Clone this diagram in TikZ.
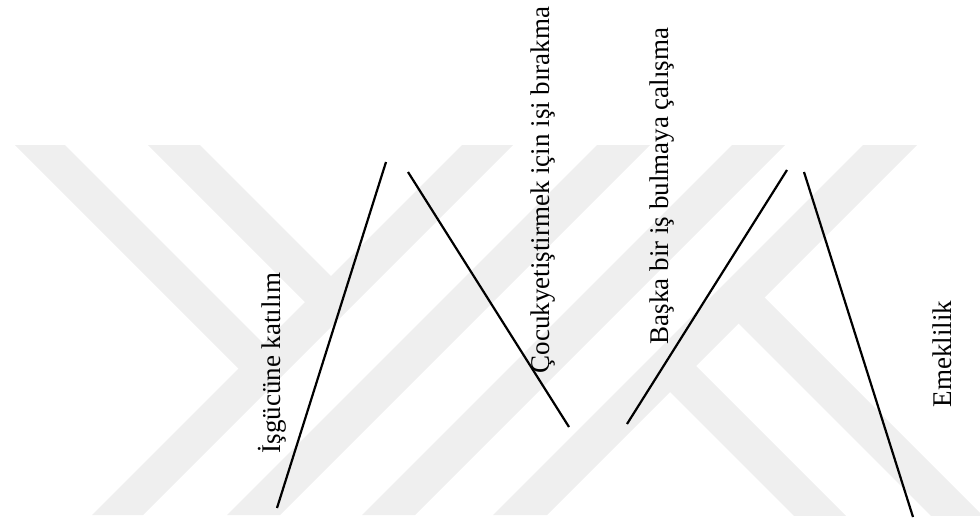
\documentclass[tikz,border=0pt]{standalone}
\usepackage{fontspec}
\setmainfont{Liberation Serif}
\definecolor{wm}{RGB}{239,239,239}
\tikzset{
  lbl/.style={rotate=90, anchor=base, inner sep=0pt, font=\fontsize{27}{32}\selectfont},
  pathline/.style={line width=2.2pt, black},
  band/.style={fill=wm, draw=none}
}
\begin{document}
\begin{tikzpicture}[x=1pt, y=-1pt]
\useasboundingbox (0,0) rectangle (980,520);
% watermark
\begin{scope}
\clip (0,145) rectangle (980,515);
\fill[band] (-30,100) -- (20,100) -- (275,355) -- (250,380) -- cycle;
\fill[band] (103,100) -- (155,100) -- (342.5,287.5) -- (316.5,313.5) -- cycle;
\fill[band] (462,145) -- (513,145) -- (143,515) -- (92,515) -- cycle;
\fill[band] (597,145) -- (650,145) -- (280,515) -- (227,515) -- cycle;
\fill[band] (732,145) -- (785,145) -- (415,515) -- (362,515) -- cycle;
\fill[band] (863,145) -- (917,145) -- (547,515) -- (493,515) -- cycle;
\fill[band] (725,310) -- (751,284) -- (1067,600) -- (1015,600) -- cycle;
\fill[band] (656.5,378.5) -- (682.5,352.5) -- (930,600) -- (878,600) -- cycle;
\end{scope}
% coordinates
\coordinate (a1) at (277,508);
\coordinate (a2) at (386,162);
\coordinate (b1) at (408,172);
\coordinate (b2) at (569,427);
\coordinate (c1) at (627,424);
\coordinate (c2) at (787,170);
\coordinate (d1) at (804,172);
\coordinate (d2) at (913,517);
\draw[pathline] (a1) -- (a2);
\draw[pathline] (b1) -- (b2);
\draw[pathline] (c1) -- (c2);
\draw[pathline] (d1) -- (d2);
% labels
\node[lbl] (t1) at (280,363) {İşgücüne katılım};
\node[lbl] (t2) at (549,190) {Çocukyetiştirmek için işi bırakma};
\node[lbl] (t3) at (668,186) {Başka bir iş bulmaya çalışma};
\node[lbl] (t4) at (951,354) {Emeklilik};
\end{tikzpicture}
\end{document}
